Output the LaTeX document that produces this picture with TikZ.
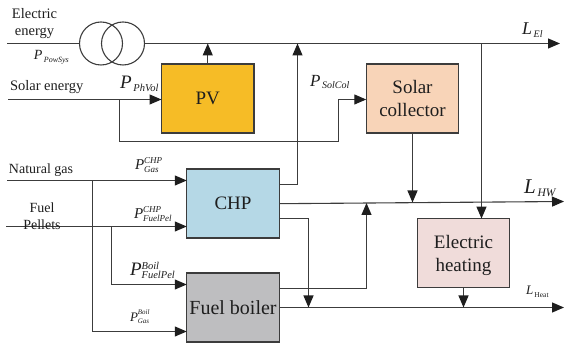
\documentclass[tikz,border=0pt]{standalone}
\usepackage{fontspec}
\setmainfont{Liberation Serif}
\usetikzlibrary{arrows.meta,calc}
\definecolor{ink}{HTML}{1E1E1E}
\definecolor{wire}{HTML}{3C3C3C}
\definecolor{pvfill}{HTML}{F6BC26}
\definecolor{solfill}{HTML}{F8D4B8}
\definecolor{chpfill}{HTML}{B5D8E6}
\definecolor{boilfill}{HTML}{BEBEC0}
\definecolor{heatfill}{HTML}{F0DCDA}
\newcommand\fsz[1]{\fontsize{#1}{#1}\selectfont}
% \plab{base}{script}{letter}{sub}{sup}
\newcommand\plab[5]{{\fsz{#1}\itshape #3}\rlap{\raisebox{-0.28em}{\fsz{#2}\itshape #4}}\raisebox{0.62em}{\fsz{#2}\itshape #5}}
\tikzset{
  box/.style={draw=wire,line width=1.1pt,minimum width=92.5pt,minimum height=69pt,inner sep=0pt,outer sep=0pt,align=center,text=ink,font=\fsz{19}},
  wirepath/.style={draw=wire,line width=1.1pt},
  flow/.style={wirepath,-{Triangle[length=12pt,width=10pt,color=ink]}},
  txt/.style={inner sep=0pt,outer sep=0pt,text=ink,align=center,font=\fsz{14.5}},
  sym/.style={inner sep=0pt,outer sep=0pt,text=ink,anchor=west},
  ring/.style={draw=wire,line width=1.1pt,circle,minimum size=43pt,inner sep=0pt,outer sep=0pt}
}
\begin{document}
\begin{tikzpicture}[x=1pt,y=-1pt]
\useasboundingbox (0,0) rectangle (565,344);
% boxes
\node[box,fill=pvfill] (pv) at (207.75,98.5) {PV};
\node[box,fill=solfill] (sol) at (412.5,98.5) {Solar\\[4pt]collector};
\node[box,fill=chpfill] (chp) at (233,203.5) {CHP};
\node[box,fill=boilfill,font=\fsz{20}] (boil) at (233,307.5) {Fuel boiler};
\node[box,fill=heatfill] (heat) at (463.5,253.3) {\rule{0pt}{17pt}Electric\\[4pt]heating};
\node[ring] (t1) at (101,43.5) {};
\node[ring] (t2) at (123,43.5) {};
% free ends and junctions
\coordinate (elin) at (7,43.5);
\coordinate (elout) at (560,43.5);
\coordinate (solin) at (8,99.5);
\coordinate (gasin) at (7,180.5);
\coordinate (pelin) at (6,226.5);
\coordinate (hwout) at (564,201.5);
\coordinate (heatout) at (564,307.5);
\coordinate (chpE) at (279.25,184.5);
\coordinate (chpH) at (279.25,203.7);
\coordinate (chpB) at (279.25,218.5);
\coordinate (boilH) at (279.25,288.5);
\coordinate (gasT) at (92.5,180.5);
\coordinate (pelT) at (111.5,226.5);
\coordinate (solT) at (119.5,99.5);
\coordinate (hwA) at (366.5,203);
\coordinate (hwB) at (412.5,202.5);
% wires
\draw[wirepath] (elin) -- (t1.west);
\draw[flow] (t2.east) -- (elout);
\draw[flow] (pv.north) -- (pv.north |- elout);
\draw[flow] (solin) -- (pv.west |- solin);
\draw[flow] (solT) |- (338.5,141.5) -- (338.5,99.5) -- (sol.west |- solin);
\draw[flow] (chpE) -- (297.5,184.5) -- (297.5,43.5);
\draw[flow] (chpH) -- (hwout);
\draw[flow] (chpB) -- (308.5,218.5) -- (308.5,307.5);
\draw[flow] (boilH) -- (366.5,288.5) -- (hwA);
\draw[flow] (boil.east) -- (heatout);
\draw[flow] (sol.south) -- (hwB);
\draw[flow] (481.5,43.5) -- (481.5,218.6);
\draw[flow] (heat.south) -- (heat.south |- heatout);
\draw[flow] (gasin) -- (chp.west |- gasin);
\draw[flow] (pelin) -- (chp.west |- pelin);
\draw[flow] (gasT) |- (boil.west |- 0,331.5);
\draw[flow] (pelT) |- (boil.west |- 0,284.5);
% texts
\node[txt] (telec) at (34.5,23.5) {Electric\\[2.5pt]energy};
\node[txt,anchor=west] (tsolar) at (10,87.5) {Solar energy};
\node[txt,anchor=west,font=\fsz{14}] (tgas) at (9,170.5) {Natural gas};
\node[txt,font=\fsz{14}] (tfuel) at (42,216) {Fuel\\[3pt]Pellets};
\node[sym] (lpow) at (34,57) {\plab{14}{8}{P}{\,PowSys}{}};
\node[sym] (lph) at (120,84) {\plab{19}{10.5}{P}{\,PhVol}{}};
\node[sym] (lsc) at (310,82) {\plab{17}{10}{P}{\,SolCol}{}};
\node[sym] (lel) at (522,30) {\plab{18}{10}{L}{\,El}{}};
\node[sym] (lhw) at (524,188) {\plab{21}{11.5}{L}{\,HW}{}};
\node[sym] (lheat) at (526,292) {\plab{13}{7.5}{L}{\,\upshape Heat}{}};
\node[sym] (lg1) at (135,165) {\plab{15}{9}{P}{Gas}{CHP}};
\node[sym] (lf1) at (134,214) {\plab{15}{9}{P}{FuelPel}{CHP}};
\node[sym] (lf2) at (130,270) {\plab{19}{10.5}{P}{FuelPel}{Boil}};
\node[sym] (lg2) at (130,317) {\plab{13}{7}{P}{Gas}{Boil}};
\end{tikzpicture}
\end{document}
